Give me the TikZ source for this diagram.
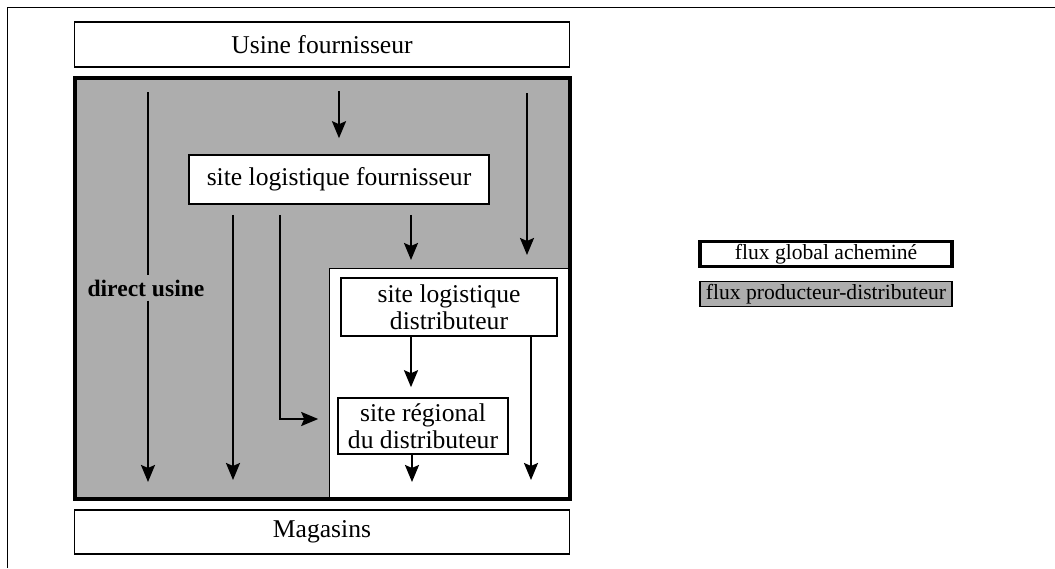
\documentclass[tikz,border=0pt]{standalone}
\usepackage{fontspec}
\setmainfont{Liberation Serif}
\usepackage{tikz}
\usetikzlibrary{arrows.meta}

\definecolor{fluxgrey}{gray}{0.68}

\begin{document}
\begin{tikzpicture}[x=0.5pt, y=-0.5pt,
  box/.style={draw, line width=0.8pt, fill=white, align=center, inner sep=0pt, font=\fontsize{12.8}{13.5}\selectfont},
  legbox/.style={draw, align=center, inner sep=0pt, minimum width=126pt, minimum height=12.5pt, font=\fontsize{10.8}{11}\selectfont},
  flow/.style={-{Stealth[length=8.5pt, width=7pt, inset=1.5pt]}, line width=1.1pt}]
\useasboundingbox (0,0) rectangle (1055,568);

% cadre
\draw[line width=0.4pt] (7,568) -- (7,7) -- (1055,7);

% zones
\fill[fluxgrey] (75,78) rectangle (570,499);
\filldraw[fill=white, line width=0.4pt] (329,268) rectangle (570,499);
\draw[line width=2pt] (75,78) rectangle (570,499);

\node[box, minimum width=247.5pt, minimum height=22.5pt] at (322,44.5) (usine) {Usine fournisseur};
\node[box, minimum width=247.5pt, minimum height=22pt] at (322,532) (mag) {Magasins};

\node[box, minimum width=150pt, minimum height=24.5pt] at (339,179.5) (slf) {site logistique fournisseur};
\node[box, minimum width=108pt, minimum height=29pt] at (449,307) (sld) {site logistique\\ distributeur};
\node[box, minimum width=85pt, minimum height=28pt] at (423,426) (srd) {site r\'egional\\ du distributeur};

\node[font=\bfseries\fontsize{11.8}{12}\selectfont, inner sep=2pt] at (146,288) (du) {direct usine};

% legende
\node[legbox, line width=1.6pt] at (826,254) (leg1) {flux global achemin\'e};
\node[legbox, fill=fluxgrey, line width=0.6pt] at (826,294) (leg2) {flux producteur-distributeur};

% extremites libres
\coordinate (du1) at (148,92);
\coordinate (du2) at (148,482);
\coordinate (g1) at (233,480);
\coordinate (bk) at (280,419);
\coordinate (h1) at (339,91);
\coordinate (m1) at (411,260);
\coordinate (r1) at (527,93);
\coordinate (r2) at (527,255);
\coordinate (d1) at (531,480);
\coordinate (d2) at (412,482);

\draw[line width=1.1pt] (du1) -- (du1|-du.north);
\draw[flow] (du1|-du.south) -- (du2);
\draw[flow, shorten <=5pt] (slf.south-|g1) -- (g1);
\draw[flow, shorten <=5pt, shorten >=9.5pt] (slf.south-|bk) -- (bk) -- (bk-|srd.west);
\draw[flow, shorten >=8pt] (h1) -- (slf.north);
\draw[flow, shorten <=5pt] (slf.south-|m1) -- (m1);
\draw[flow] (r1) -- (r2);
\draw[flow, shorten >=5pt] (sld.south-|m1) -- (srd.north-|m1);
\draw[flow] (sld.south-|d1) -- (d1);
\draw[flow] (srd.south-|d2) -- (d2);
\end{tikzpicture}
\end{document}
